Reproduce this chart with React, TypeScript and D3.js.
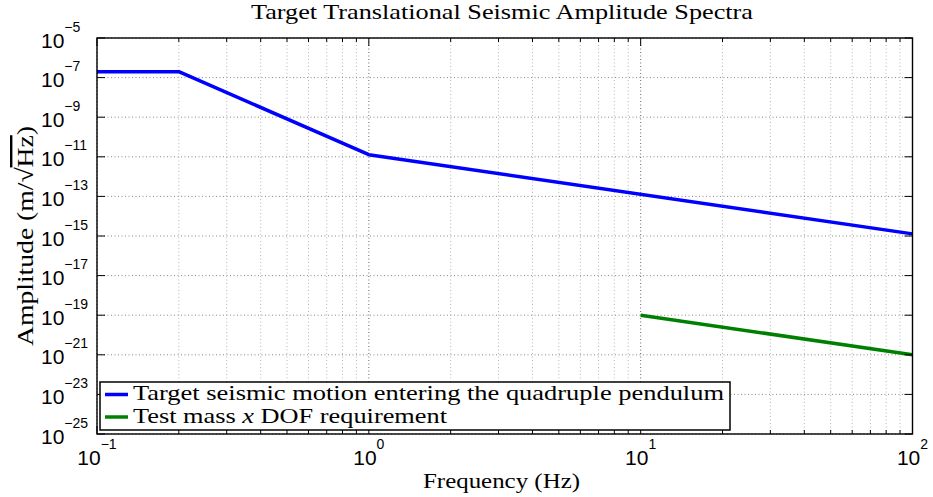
import React from "react";
import * as d3 from "d3";

// Seismic motion entering the quadruple pendulum (piecewise power law)
const seismicFreq = [0.1, 0.2, 1, 100];
const seismicAmp = [2e-7, 2e-7, 1.28e-11, 1.28e-15];

// Test mass x DOF requirement
const requirementFreq = [10, 100];
const requirementAmp = [1e-19, 1e-21];

// Axis tick exponents
const xTickExps = [-1, 0, 1, 2];
const yTickExps = [-25, -23, -21, -19, -17, -15, -13, -11, -9, -7, -5];

const legendLabels = [
  "Target seismic motion entering the quadruple pendulum",
  "Test mass x DOF requirement",
];
const seriesColors = ["#0000ff", "#008000"];

const W = 933;
const H = 497;
const left = 97;
const right = 912.5;
const top = 38;
const bottom = 434;

const serif = "Liberation Serif";
const sans = "Liberation Sans";

export default function App() {
  const x = d3.scaleLog().domain([0.1, 100]).range([left, right]);
  const y = d3.scaleLog().domain([1e-25, 1e-5]).range([bottom, top]);

  const line = d3
    .line<[number, number]>()
    .x((d) => x(d[0]))
    .y((d) => y(d[1]));

  const seismic: [number, number][] = seismicFreq.map((f, i) => [f, seismicAmp[i]]);
  const requirement: [number, number][] = requirementFreq.map((f, i) => [f, requirementAmp[i]]);

  // minor x ticks: 2..9 in each decade
  const minorX: number[] = [];
  for (let e = -1; e < 2; e++) {
    for (let m = 2; m <= 9; m++) minorX.push(m * Math.pow(10, e));
  }
  const majorX = xTickExps.map((e) => Math.pow(10, e));
  const majorY = yTickExps.map((e) => Math.pow(10, e));

  return (
    <svg width={W} height={H} style={{ position: "absolute", left: 0, top: 0, background: "#fff" }}>
      <rect x={0} y={0} width={W} height={H} fill="#fff" />

      {/* grid */}
      <g>
        {minorX.map((v, i) => (
          <line key={"gm" + i} x1={x(v)} x2={x(v)} y1={top} y2={bottom}
            stroke="#b8b8b8" strokeWidth={1} strokeDasharray="1,2.5" />
        ))}
        {majorX.map((v, i) => (
          <line key={"gx" + i} x1={x(v)} x2={x(v)} y1={top} y2={bottom}
            stroke="#666" strokeWidth={1} strokeDasharray="1,2.5" />
        ))}
        {majorY.map((v, i) => (
          <line key={"gy" + i} x1={left} x2={right} y1={y(v)} y2={y(v)}
            stroke="#888" strokeWidth={1} strokeDasharray="1,2.5" />
        ))}
      </g>

      {/* series */}
      <path d={line(seismic) || ""} fill="none" stroke={seriesColors[0]} strokeWidth={3.5} strokeLinejoin="round" />
      <path d={line(requirement) || ""} fill="none" stroke={seriesColors[1]} strokeWidth={3.5} strokeLinejoin="round" />

      {/* ticks */}
      <g stroke="#000" strokeWidth={1}>
        {majorX.map((v, i) => (
          <g key={"tx" + i}>
            <line x1={x(v)} x2={x(v)} y1={bottom} y2={bottom - 8} />
            <line x1={x(v)} x2={x(v)} y1={top} y2={top + 8} />
          </g>
        ))}
        {minorX.map((v, i) => (
          <g key={"tm" + i}>
            <line x1={x(v)} x2={x(v)} y1={bottom} y2={bottom - 4} />
            <line x1={x(v)} x2={x(v)} y1={top} y2={top + 4} />
          </g>
        ))}
        {majorY.map((v, i) => (
          <g key={"ty" + i}>
            <line x1={left} x2={left + 8} y1={y(v)} y2={y(v)} />
            <line x1={right} x2={right - 8} y1={y(v)} y2={y(v)} />
          </g>
        ))}
      </g>

      {/* axes box */}
      <rect x={left} y={top} width={right - left} height={bottom - top} fill="none" stroke="#000" strokeWidth={1.4} />

      {/* x tick labels */}
      {xTickExps.map((e, i) => (
        <text key={"xl" + i} x={x(Math.pow(10, e))} y={465} textAnchor="middle"
          fontFamily={sans} fontSize={21} fill="#000">
          10
          <tspan dy={-16} fontSize={14}>{e < 0 ? "\u2212" + Math.abs(e) : String(e)}</tspan>
        </text>
      ))}

      {/* y tick labels */}
      {yTickExps.map((e, i) => (
        <text key={"yl" + i} x={41} y={y(Math.pow(10, e)) + 9.5} textAnchor="start"
          fontFamily={sans} fontSize={21} fill="#000">
          10
          <tspan dy={-16} fontSize={14}>{"\u2212" + Math.abs(e)}</tspan>
        </text>
      ))}

      {/* title */}
      <text x={502} y={19} textAnchor="middle" fontFamily={serif} fontSize={22}
        textLength={502} lengthAdjust="spacingAndGlyphs" fill="#000">
        Target Translational Seismic Amplitude Spectra
      </text>

      {/* x label */}
      <text x={501.5} y={488} textAnchor="middle" fontFamily={serif} fontSize={22}
        textLength={157} lengthAdjust="spacingAndGlyphs" fill="#000">
        Frequency (Hz)
      </text>

      {/* y label */}
      <text transform={`translate(33,${(top + bottom) / 2}) rotate(-90)`} textAnchor="middle"
        fontFamily={serif} fontSize={24} textLength={220} lengthAdjust="spacingAndGlyphs" fill="#000">
        Amplitude (m/
        <tspan>{"\u221A"}</tspan>
        <tspan style={{ textDecoration: "overline" }}>Hz</tspan>)
      </text>

      {/* legend */}
      <g>
        <rect x={100} y={382} width={630} height={48} fill="#fff" stroke="#000" strokeWidth={1.5} />
        <line x1={105} x2={128} y1={394.5} y2={394.5} stroke={seriesColors[0]} strokeWidth={3.5} />
        <line x1={105} x2={128} y1={417} y2={417} stroke={seriesColors[1]} strokeWidth={3.5} />
        <text x={133} y={400} fontFamily={serif} fontSize={22} textLength={591}
          lengthAdjust="spacingAndGlyphs" fill="#000">
          {legendLabels[0]}
        </text>
        <text x={133} y={423} fontFamily={serif} fontSize={22} textLength={314}
          lengthAdjust="spacingAndGlyphs" fill="#000">
          Test mass <tspan fontStyle="italic">x</tspan> DOF requirement
        </text>
      </g>
    </svg>
  );
}
